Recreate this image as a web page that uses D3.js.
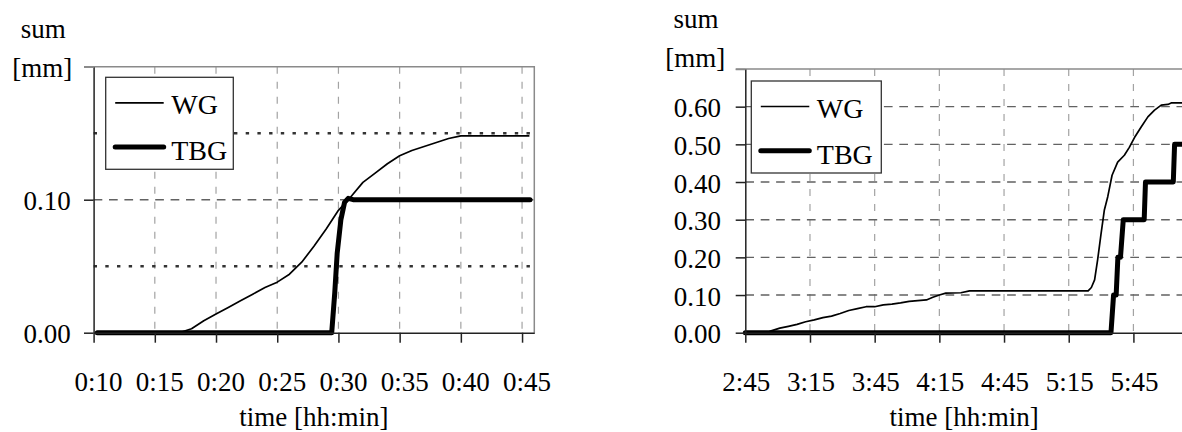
<html>
<head>
<style>
body { margin: 0; background: white; overflow: hidden; }
svg { display: block; font-family: "Liberation Serif", "Times New Roman", serif; }
.tick text { font-family: "Liberation Serif", "Times New Roman", serif; font-size: 27px; fill: #000; }
.lbl { font-size: 27px; fill: #000; }
.leg { font-size: 28px; fill: #000; }
</style>
</head>
<body>
<div id="chart"></div>
<script src="https://d3js.org/d3.v7.min.js"></script>
<script>

// left panel, time in minutes after 0:00
let leftWgTime = [10.3, 17, 18, 19, 20, 21, 22, 23, 24, 25, 26, 27, 28, 29, 30, 31, 32, 33, 34, 35, 36, 37, 38, 39, 40, 41, 45.6]
let leftWg = [0, 0, 0.003, 0.009, 0.014, 0.019, 0.024, 0.029, 0.034, 0.038, 0.044, 0.053, 0.065, 0.078, 0.092, 0.102, 0.113, 0.120, 0.127, 0.133, 0.137, 0.140, 0.143, 0.146, 0.148, 0.148, 0.148]
let leftTbgTime = [10.3, 29.0, 29.45, 29.7, 29.9, 30.2, 30.5, 30.8, 31.2, 45.65]
let leftTbg = [0, 0, 0, 0.03, 0.06, 0.085, 0.098, 0.101, 0.100, 0.100]
let leftXTicks = [10, 15, 20, 25, 30, 35, 40, 45]
let leftYTicks = [0, 0.1, 0.2]
let leftDotted = [0.05, 0.15]

// right panel, time in minutes after 0:00
let rightWgTime = [165, 175, 177, 181, 185, 189, 193, 197, 201, 205, 209, 213, 217, 221, 225, 229, 233, 237, 241, 245, 249, 252, 255, 258, 265, 269, 324, 325.5, 327, 328.4, 330, 331.5, 333.1, 335.1, 337.7, 340.8, 343.1, 345.5, 348.6, 351.7, 354.8, 357.9, 361, 362.5, 370]
let rightWg = [0, 0, 0.005, 0.012, 0.017, 0.022, 0.029, 0.034, 0.040, 0.044, 0.051, 0.059, 0.064, 0.069, 0.069, 0.074, 0.076, 0.079, 0.083, 0.085, 0.087, 0.094, 0.100, 0.105, 0.106, 0.111, 0.111, 0.120, 0.140, 0.193, 0.263, 0.325, 0.361, 0.418, 0.453, 0.471, 0.492, 0.518, 0.546, 0.573, 0.591, 0.604, 0.606, 0.610, 0.610]
let rightTbgTime = [165, 334.6, 335.8, 337.0, 337.8, 339.0, 340.3, 350.0, 350.6, 363.5, 364.1, 370]
let rightTbg = [0, 0, 0.1, 0.1, 0.2, 0.2, 0.3, 0.3, 0.4, 0.4, 0.5, 0.5]
let rightXTicks = [165, 195, 225, 255, 285, 315, 345]
let rightYTicks = [0, 0.1, 0.2, 0.3, 0.4, 0.5, 0.6, 0.7]

let seriesNames = ["WG", "TBG"]

let width = 1182
let height = 432

let svg = d3.select("#chart")
    .append("svg")
    .attr("width", width)
    .attr("height", height)

function hhmm(m) {
    let h = Math.floor(m / 60)
    let mm = Math.round(m % 60)
    return h + ":" + String(mm).padStart(2, "0")
}

function drawPanel(p) {
    let g = svg.append("g")

    let x = d3.scaleLinear().domain(p.xDomain).range([p.left, p.right])
    let y = d3.scaleLinear().domain(p.yDomain).range([p.bottom, p.top])

    // vertical grid, dashed light gray
    g.selectAll(".vgrid")
        .data(p.xTicks.slice(1))
        .join("line")
        .attr("x1", d => x(d)).attr("x2", d => x(d))
        .attr("y1", p.top).attr("y2", p.bottom)
        .attr("stroke", "#a3a3a3")
        .attr("stroke-width", 1.2)
        .attr("stroke-dasharray", "7,8")

    // horizontal grid
    g.selectAll(".hgrid")
        .data(p.hGrid)
        .join("line")
        .attr("x1", p.left).attr("x2", p.right)
        .attr("y1", d => y(d)).attr("y2", d => y(d))
        .attr("stroke", "#626262")
        .attr("stroke-width", 1.4)
        .attr("stroke-dasharray", "8.7,6.7")

    // dotted reference lines
    g.selectAll(".dotted")
        .data(p.dotted)
        .join("line")
        .attr("x1", p.left).attr("x2", p.right)
        .attr("y1", d => y(d)).attr("y2", d => y(d))
        .attr("stroke", "#333")
        .attr("stroke-width", 2.5)
        .attr("stroke-dasharray", "3.4,8.3")

    // top + right frame in gray
    g.append("path")
        .attr("d", `M${p.left - 9.6},${p.top}H${p.right}V${p.bottom}`)
        .attr("fill", "none")
        .attr("stroke", "#8a8a8a")
        .attr("stroke-width", 1.5)

    let line = d3.line().x(d => x(d[0])).y(d => y(d[1]))

    g.append("path")
        .datum(d3.zip(p.wgTime, p.wg))
        .attr("d", line)
        .attr("fill", "none")
        .attr("stroke", "#000")
        .attr("stroke-width", 1.7)
        .attr("stroke-linejoin", "round")

    g.append("path")
        .datum(d3.zip(p.tbgTime, p.tbg))
        .attr("d", line)
        .attr("fill", "none")
        .attr("stroke", "#000")
        .attr("stroke-width", 5)
        .attr("stroke-linejoin", "round")
        .attr("stroke-linecap", "round")

    // axes
    let xAxis = g.append("g")
        .attr("transform", `translate(0, ${p.bottom})`)
        .call(d3.axisBottom(x).tickValues(p.xTicks).tickFormat(p.xFormat).tickSize(10).tickSizeOuter(0).tickPadding(29))
    xAxis.select(".domain").attr("stroke", "#222").attr("stroke-width", 1.5)
    xAxis.selectAll(".tick line").attr("stroke", "#222").attr("stroke-width", 1.5)
    xAxis.selectAll(".tick text").attr("dx", p.xLabelShift)

    let yAxis = g.append("g")
        .attr("transform", `translate(${p.left}, 0)`)
        .call(d3.axisLeft(y).tickValues(p.yTicks)
            .tickFormat(d => d >= p.yDomain[1] - 1e-9 ? "" : d3.format(".2f")(d))
            .tickSize(9.6).tickSizeOuter(0).tickPadding(p.yPad))
    yAxis.select(".domain").attr("stroke", "#222").attr("stroke-width", 1.5)
    yAxis.selectAll(".tick line").attr("stroke", "#222").attr("stroke-width", 1.5)
    yAxis.selectAll(".tick text").attr("dy", "0.38em")
    yAxis.selectAll(".tick").filter(d => d >= p.yDomain[1] - 1e-9).select("line").attr("stroke", "#8a8a8a")

    // axis titles
    g.append("text").attr("class", "lbl")
        .attr("x", p.sumX).attr("y", p.sumY)
        .attr("text-anchor", "middle").text("sum")
    g.append("text").attr("class", "lbl")
        .attr("x", p.mmX).attr("y", p.mmY)
        .attr("text-anchor", "middle").text("[mm]")
    g.append("text").attr("class", "lbl")
        .attr("x", (p.left + p.right) / 2).attr("y", 425.5)
        .attr("text-anchor", "middle").text("time [hh:min]")

    // legend
    let leg = g.append("g").attr("transform", `translate(${p.legX}, ${p.legY})`)
    leg.append("rect")
        .attr("width", p.legW).attr("height", 92)
        .attr("fill", "white")
        .attr("stroke", "#333")
        .attr("stroke-width", 1.3)
    seriesNames.forEach((name, i) => {
        leg.append("line")
            .attr("x1", 9.5).attr("x2", 58)
            .attr("y1", 25.5 + i * 44.2).attr("y2", 25.5 + i * 44.2)
            .attr("stroke", "#000")
            .attr("stroke-width", i == 0 ? 1.7 : 5)
            .attr("stroke-linecap", i == 0 ? "butt" : "round")
        leg.append("text").attr("class", "leg")
            .attr("x", 65.5).attr("y", 36.5 + i * 46)
            .text(name)
    })
}

drawPanel({
    left: 93.6, right: 534.3, top: 66.7, bottom: 332.7,
    xDomain: [10, 46], yDomain: [0, 0.2],
    xTicks: leftXTicks, yTicks: leftYTicks,
    xFormat: d => hhmm(d), xLabelShift: 4.5,
    hGrid: [0.1], dotted: leftDotted,
    yPad: 13.3,
    wgTime: leftWgTime, wg: leftWg, tbgTime: leftTbgTime, tbg: leftTbg,
    sumX: 43.3, sumY: 38, mmX: 42.2, mmY: 77,
    legX: 105.7, legY: 77.3, legW: 127.6
})

drawPanel({
    left: 745.3, right: 1183, top: 69, bottom: 332.7,
    xDomain: [165, 368], yDomain: [0, 0.7],
    xTicks: rightXTicks, yTicks: rightYTicks,
    xFormat: d => hhmm(d), xLabelShift: 0.5,
    hGrid: [0.1, 0.2, 0.3, 0.4, 0.5, 0.6], dotted: [],
    yPad: 14.7,
    wgTime: rightWgTime, wg: rightWg, tbgTime: rightTbgTime, tbg: rightTbg,
    sumX: 696, sumY: 28, mmX: 695.3, mmY: 66.5,
    legX: 751.3, legY: 81, legW: 130
})

</script>
</body>
</html>
